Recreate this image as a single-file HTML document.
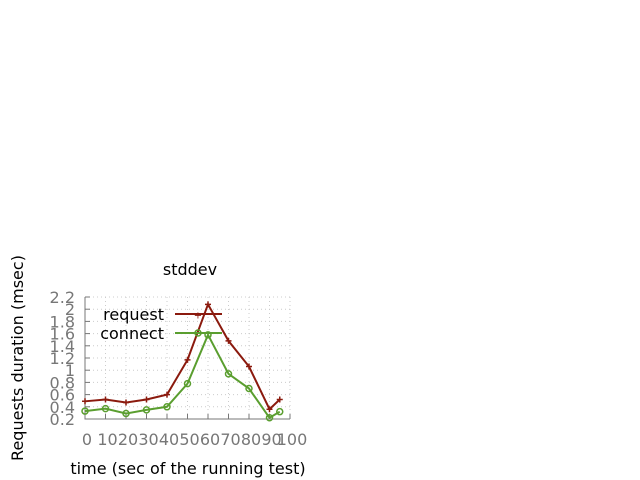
<!DOCTYPE html>
<html><head><style>body{margin:0;background:#fff}svg{display:block}text{font-family:"DejaVu Sans",sans-serif}</style></head>
<body>
<svg id="c" width="640" height="480">
<text x="190" y="275" text-anchor="middle" font-size="16">stddev</text>
<text transform="translate(23,358) rotate(-90)" text-anchor="middle" font-size="16">Requests duration (msec)</text>
<text x="188" y="474" text-anchor="middle" font-size="16">time (sec of the running test)</text>
<g id="grid"></g><g id="axes"></g><g id="series"></g>
<g>
<text x="164" y="320" text-anchor="end" font-size="16">request</text>
<line x1="175" y1="314" x2="222" y2="314" stroke="#8b1a0e" stroke-width="2"/>
<text x="198" y="318.5" text-anchor="middle" font-size="10" fill="#8b1a0e">+</text>
<text x="164" y="339" text-anchor="end" font-size="16">connect</text>
<line x1="175" y1="333" x2="222" y2="333" stroke="#5a9e2f" stroke-width="2"/>
<circle cx="198" cy="333" r="3" fill="none" stroke="#5a9e2f" stroke-width="1.5"/>
</g>
</svg>
<script>
const xs=[0,10,20,30,40,50,60,70,80,90,95];
const requestVals=[0.49,0.52,0.47,0.52,0.60,1.17,2.08,1.48,1.06,0.36,0.52];
const connectVals=[0.33,0.37,0.29,0.35,0.40,0.78,1.58,0.94,0.70,0.22,0.32];
const yTicks=[0.2,0.4,0.6,0.8,1,1.2,1.4,1.6,1.8,2,2.2];
const xTicks=[0,10,20,30,40,50,60,70,80,90,100];
const NS="http://www.w3.org/2000/svg";
const X0=85,X1=290,Y0=419,Y1=297;
const sx=v=>X0+(v-0)/100*(X1-X0);
const sy=v=>Y0-(v-0.2)/2*(Y0-Y1);
function mk(t,a,p){const e=document.createElementNS(NS,t);for(const k in a)e.setAttribute(k,a[k]);p.appendChild(e);return e;}
const grid=document.getElementById('grid'),axes=document.getElementById('axes'),ser=document.getElementById('series');
yTicks.forEach(v=>{const y=sy(v);
const g=mk('line',{x1:X0,x2:X1,y1:y,y2:y,stroke:'#ccc','stroke-dasharray':'1,3'},grid);


const t=mk('text',{x:75,y:y+6,'text-anchor':'end','font-size':16,fill:'#777'},axes);t.textContent=v;


const tk=mk('line',{x1:X0,x2:X0+5,y1:y,y2:y,stroke:'#777'},axes);

});
xTicks.forEach(v=>{const x=sx(v);
const g=mk('line',{x1:x,x2:x,y1:Y1,y2:Y0,stroke:'#ccc','stroke-dasharray':'1,3'},grid);


const t=mk('text',{x:x+2,y:445,'text-anchor':'middle','font-size':16,fill:'#777'},axes);t.textContent=v;


const tk=mk('line',{x1:x,x2:x,y1:Y0,y2:Y0-5,stroke:'#777'},axes);

});
const ax=mk('path',{d:`M${X0},${Y1}V${Y0}H${X1}`,fill:'none',stroke:'#777'},axes);


function series(vals,col,name,circle){
const pl=mk('polyline',{points:xs.map((x,i)=>sx(x)+','+sy(vals[i])).join(' '),fill:'none',stroke:col,'stroke-width':2},ser);


xs.forEach((x,i)=>{let m;
if(circle)m=mk('circle',{cx:sx(x),cy:sy(vals[i]),r:3,fill:'none',stroke:col,'stroke-width':1.5},ser);
else m=mk('path',{d:`M${sx(x)-3},${sy(vals[i])}h6M${sx(x)},${sy(vals[i])-3}v6`,stroke:col,'stroke-width':1.5},ser);

});}
series(requestVals,'#8b1a0e','request',false);
series(connectVals,'#5a9e2f','connect',true);
</script>
</body></html>
